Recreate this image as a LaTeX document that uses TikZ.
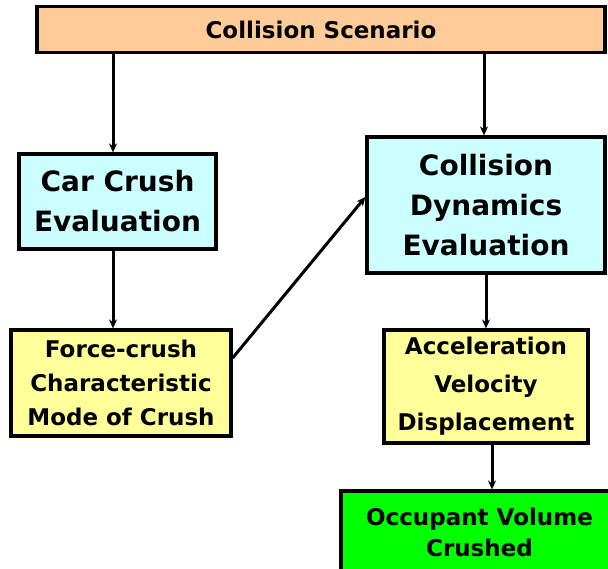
\documentclass[tikz,border=0pt]{standalone}
\usepackage{fontspec}
\setmainfont{DejaVu Sans}
\usetikzlibrary{arrows.meta}
\definecolor{peach}{HTML}{FFCC99}
\definecolor{lcyan}{HTML}{CCFFFF}
\definecolor{lyellow}{HTML}{FFFF99}
\definecolor{lgreen}{HTML}{00FF00}
\tikzset{
  box/.style={draw=black, line width=3.2pt, rectangle, inner sep=0pt, align=center, font=\bfseries},
  big/.style={font=\bfseries\fontsize{28}{40}\selectfont},
  small/.style={font=\bfseries\fontsize{23}{34}\selectfont},
  arr/.style={line width=3pt, -{Stealth[length=9pt,width=8pt]}},
  plain/.style={line width=3pt}
}
\begin{document}
\begin{tikzpicture}[x=1pt,y=1pt]
\useasboundingbox (0,0) rectangle (608,-568);
\fill[white] (0,0) rectangle (608,-568);
\clip (0,0) rectangle (608,-568);
\node[box, small, fill=peach, minimum width=568pt, minimum height=46pt] (top) at (321,-29.5) {Collision Scenario};
\node[box, big, fill=lcyan, minimum width=197pt, minimum height=95pt] (car) at (117.5,-201.5) {Car Crush\\Evaluation};
\node[box, big, fill=lcyan, minimum width=238pt, minimum height=136pt] (dyn) at (486,-205) {Collision\\Dynamics\\Evaluation};
\node[box, small, fill=lyellow, minimum width=220pt, minimum height=106pt] (force) at (121,-383) {Force-crush\\Characteristic\\Mode of Crush};
\node[box, font=\bfseries\fontsize{23}{38}\selectfont, fill=lyellow, minimum width=204pt, minimum height=113pt] (acc) at (486,-386.5) {Acceleration\\Velocity\\Displacement};
\node[box, font=\bfseries\fontsize{23}{31}\selectfont, fill=lgreen, minimum width=277pt, minimum height=83pt, text depth=0pt] (occ) at (479.5,-532.5) {Occupant Volume\\Crushed};
\draw[arr] ([xshift=-4.5pt]car.north |- top.south) -- ([xshift=-4.5pt]car.north);
\draw[arr] ([xshift=-2pt]dyn.north |- top.south) -- ([xshift=-2pt]dyn.north);
\draw[arr] ([xshift=-4.5pt]car.south) -- ([xshift=-4.5pt]car.south |- force.north);
\draw[plain, -{Stealth[length=9pt,width=8pt]}] ([yshift=25pt]force.east) -- ([yshift=8pt]dyn.west);
\draw[arr] (dyn.south) -- (acc.north);
\draw[arr] ([xshift=6pt]acc.south) -- ([xshift=6pt]acc.south |- occ.north);
\end{tikzpicture}
\end{document}
